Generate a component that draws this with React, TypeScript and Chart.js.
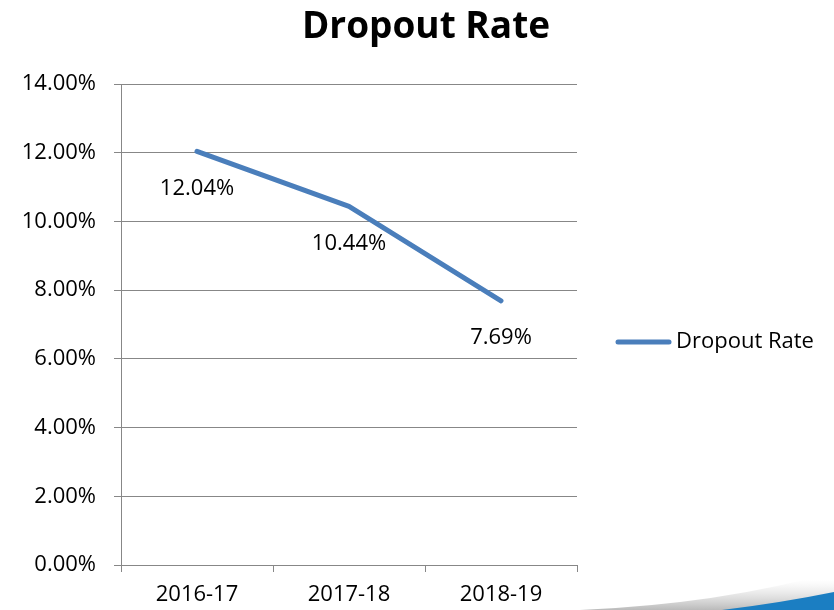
import React, { useEffect, useRef } from "react";
import { Chart, registerables } from "chart.js";

Chart.register(...registerables);

const categories = ["2016-17", "2017-18", "2018-19"];
const seriesName = "Dropout Rate";
const dropoutValues = [12.04, 10.44, 7.69];
const yMin = 0;
const yMax = 14;
const yStep = 2;
const chartTitle = "Dropout Rate";

const FONT = "'Open Sans', Lato, sans-serif";
const LINE_COLOR = "#4A7EBB";
const GRID_COLOR = "#878787";

const decorPlugin = {
  id: "decor",
  beforeDraw(chart: any) {
    const { ctx, width, height } = chart;
    ctx.save();
    ctx.fillStyle = "#ffffff";
    ctx.fillRect(0, 0, width, height);
    // gray shadow swoosh
    const g = ctx.createLinearGradient(0, height - 30, 0, height);
    g.addColorStop(0, "rgba(200,200,200,0)");
    g.addColorStop(1, "rgba(140,140,140,0.6)");
    ctx.fillStyle = g;
    ctx.beginPath();
    ctx.moveTo(580, height);
    ctx.quadraticCurveTo(720, height - 6, width, height - 38);
    ctx.lineTo(width, height);
    ctx.closePath();
    ctx.fill();
    // blue wedge
    ctx.fillStyle = "#1B7EC2";
    ctx.beginPath();
    ctx.moveTo(722, height);
    ctx.quadraticCurveTo(780, height - 7, width, height - 18);
    ctx.lineTo(width, height);
    ctx.closePath();
    ctx.fill();
    ctx.restore();
  },
};

const labelsPlugin = {
  id: "customLabels",
  afterDraw(chart: any) {
    const { ctx } = chart;
    ctx.save();
    // title
    ctx.fillStyle = "#000";
    ctx.font = `bold 37px ${FONT}`;
    ctx.textAlign = "center";
    ctx.textBaseline = "alphabetic";
    ctx.fillText(chartTitle, 426, 38);

    // data labels
    ctx.font = `22px ${FONT}`;
    ctx.textBaseline = "middle";
    const meta = chart.getDatasetMeta(0);
    meta.data.forEach((pt: any, i: number) => {
      ctx.fillText(dropoutValues[i].toFixed(2) + "%", pt.x, pt.y + 37);
    });

    // legend
    const ly = 342;
    ctx.strokeStyle = LINE_COLOR;
    ctx.lineWidth = 5;
    ctx.lineCap = "round";
    ctx.beginPath();
    ctx.moveTo(618, ly);
    ctx.lineTo(669, ly);
    ctx.stroke();
    ctx.textAlign = "left";
    ctx.fillStyle = "#000";
    ctx.fillText(seriesName, 676, ly);
    ctx.restore();
  },
};

export default function App() {
  const ref = useRef<HTMLCanvasElement | null>(null);

  useEffect(() => {
    if (!ref.current) return;
    const chart = new Chart(ref.current, {
      type: "line",
      data: {
        labels: categories,
        datasets: [
          {
            label: seriesName,
            data: dropoutValues,
            borderColor: LINE_COLOR,
            backgroundColor: LINE_COLOR,
            borderWidth: 5,
            borderCapStyle: "round",
            borderJoinStyle: "round",
            pointRadius: 0,
            tension: 0,
          },
        ],
      },
      options: {
        animation: false,
        responsive: false,
        maintainAspectRatio: false,
        layout: { padding: { left: 0, right: 257, top: 84, bottom: 0 } },
        plugins: {
          legend: { display: false },
          title: { display: false },
          tooltip: { enabled: false },
        },
        scales: {
          x: {
            type: "category",
            offset: true,
            afterFit: (s: any) => {
              s.height = 45;
            },
            grid: {
              offset: true,
              drawOnChartArea: false,
              drawTicks: true,
              tickLength: 7,
              color: GRID_COLOR,
              lineWidth: 1,
            },
            border: { display: true, color: GRID_COLOR, width: 1 },
            ticks: {
              color: "#000",
              font: { family: FONT, size: 22 },
              padding: 10,
              maxRotation: 0,
            },
          },
          y: {
            min: yMin,
            max: yMax,
            afterFit: (s: any) => {
              s.width = 121;
            },
            grid: {
              color: GRID_COLOR,
              lineWidth: 1,
              tickLength: 7,
            },
            border: { display: true, color: GRID_COLOR, width: 1 },
            ticks: {
              stepSize: yStep,
              color: "#000",
              font: { family: FONT, size: 22 },
              padding: 18,
              callback: (v: any) => Number(v).toFixed(2) + "%",
            },
          },
        },
      },
      plugins: [decorPlugin, labelsPlugin],
    });
    return () => chart.destroy();
  }, []);

  return (
    <div style={{ position: "absolute", left: 0, top: 0, width: 834, height: 610 }}>
      <canvas ref={ref} width={834} height={610} style={{ width: 834, height: 610, display: "block" }} />
    </div>
  );
}
